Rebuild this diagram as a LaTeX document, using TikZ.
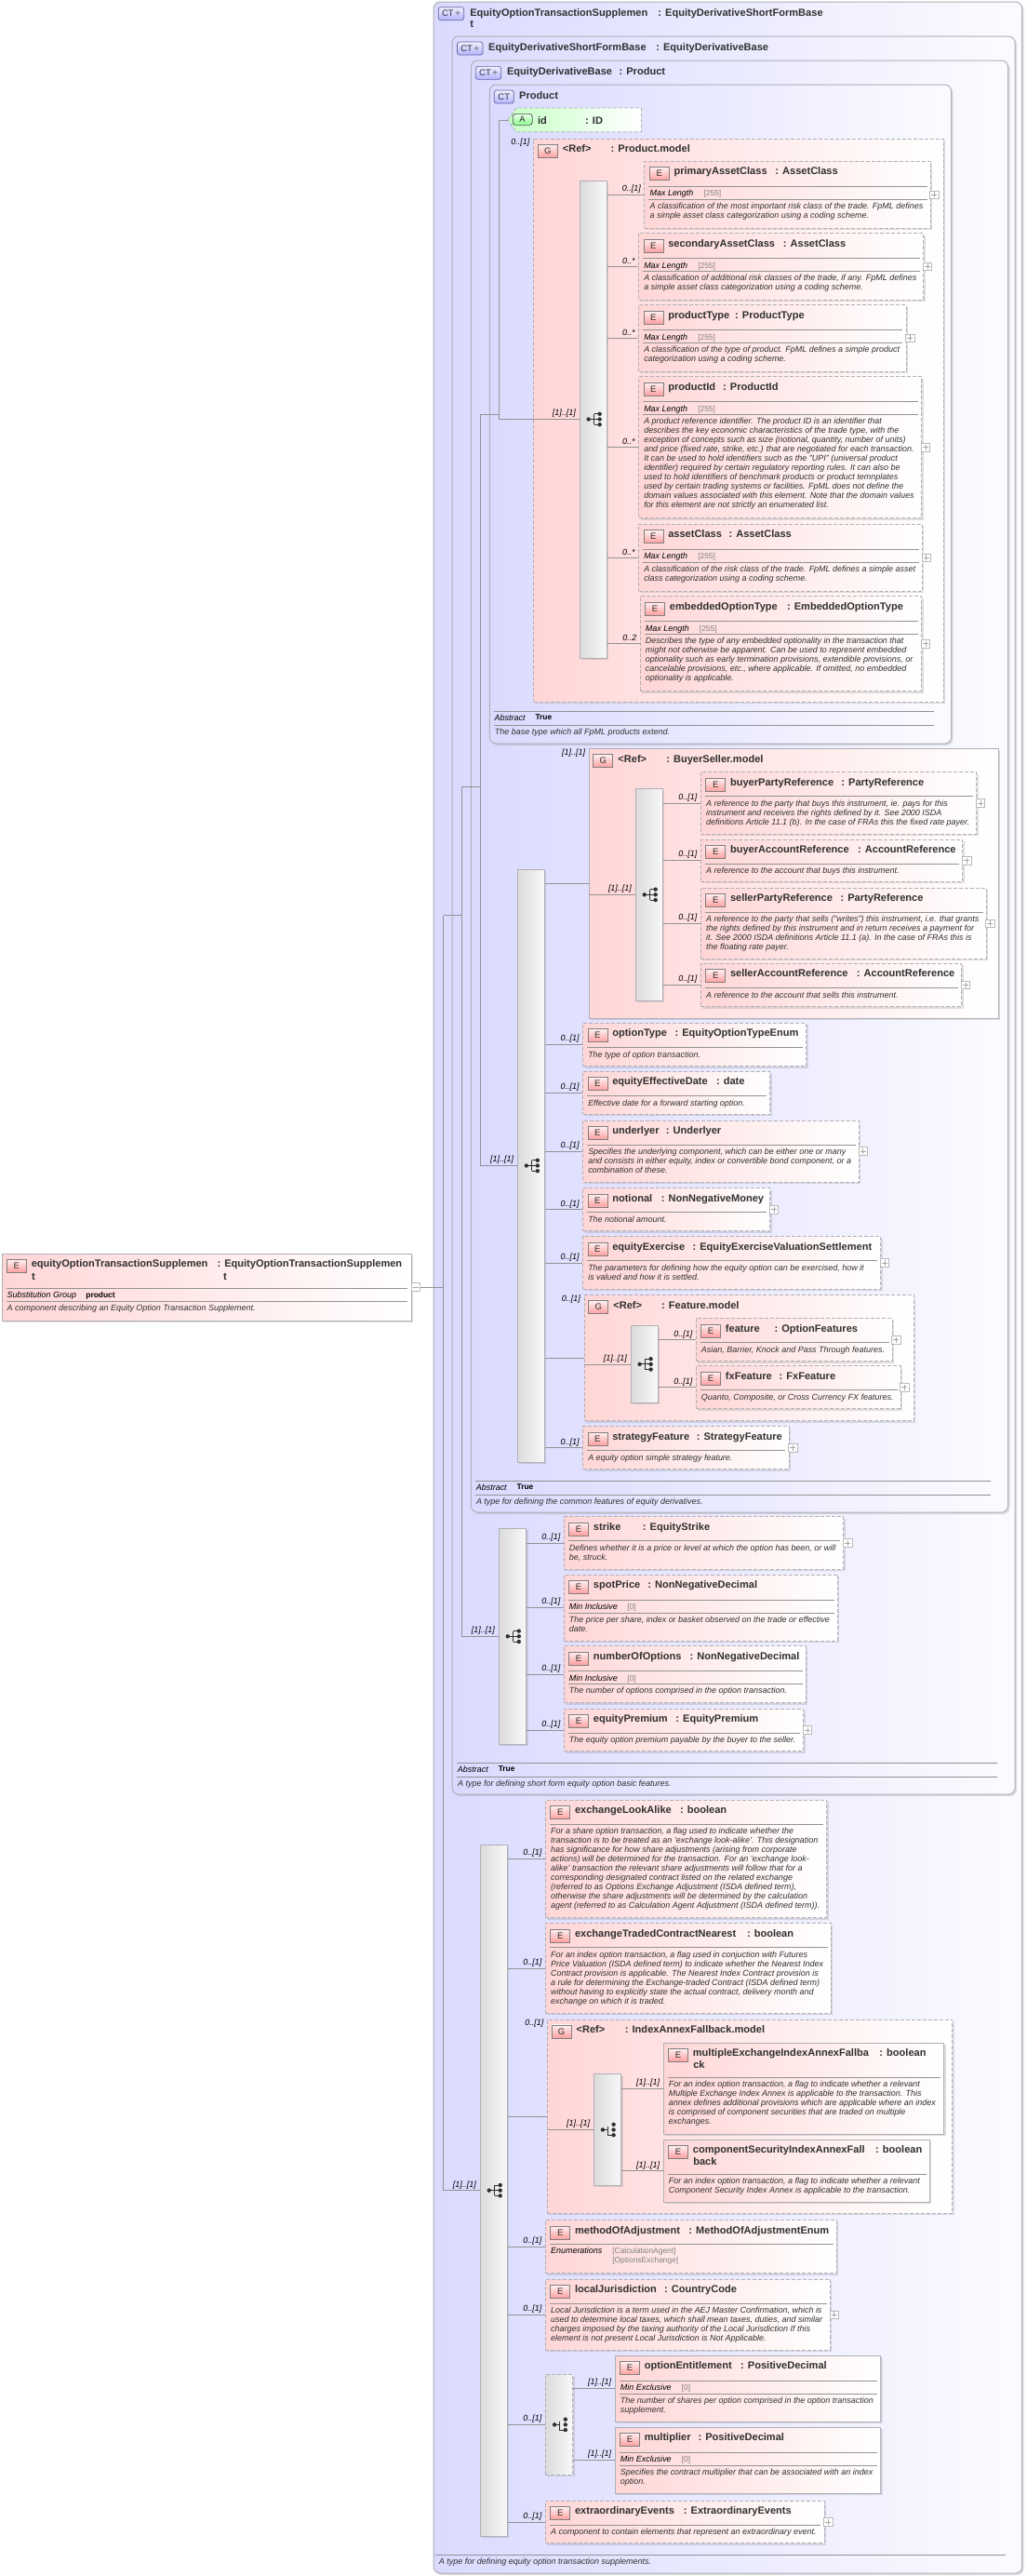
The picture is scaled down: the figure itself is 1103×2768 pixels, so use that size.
\documentclass[tikz,border=0pt]{standalone}
\usepackage{fontspec}
\setmainfont{Liberation Sans}
\usepackage{xcolor}
\usetikzlibrary{fit,shadows}

\definecolor{ctleft}{RGB}{218,218,255}
\definecolor{ctright}{RGB}{251,251,255}
\definecolor{elleft}{RGB}{255,214,214}
\definecolor{edgegray}{RGB}{176,176,184}
\definecolor{inkgray}{RGB}{48,48,48}

\tikzset{
	softshadow/.style={drop shadow={shadow xshift=2pt,shadow yshift=-2pt,fill=gray,opacity=.25}},
	ctbox/.style={draw=edgegray,line width=1pt,rounded corners=7pt,left color=ctleft,right color=ctright,inner sep=0pt,softshadow},
	elemsolid/.style={draw=edgegray,line width=.9pt,left color=elleft,right color=white,inner sep=0pt,softshadow},
	elemdash/.style={elemsolid,dash pattern=on 4pt off 2pt},
	seqbar/.style={draw=edgegray,line width=.9pt,left color=gray!28,right color=gray!5,inner sep=0pt,softshadow},
	seqbardash/.style={seqbar,dash pattern=on 4pt off 2pt},
	badge/.style={draw=gray,line width=.7pt,top color=red!6,bottom color=red!38,text=inkgray,inner sep=0pt,
		minimum width=21pt,minimum height=14pt,anchor=north west,font=\fontsize{9.5}{10}\selectfont},
	ctbadge/.style={badge,rounded corners=2.5pt,draw=gray!80!blue,top color=blue!6,bottom color=blue!30},
	titletext/.style={anchor=base west,inner sep=0pt,text=inkgray,font=\fontsize{11.05}{12}\selectfont\bfseries},
	doctext/.style={anchor=north west,align=left,inner sep=0pt,text=inkgray,font=\fontsize{8.98}{10}\selectfont\itshape},
	facetname/.style={anchor=base west,inner sep=0pt,text=black,font=\fontsize{8.98}{10}\selectfont\itshape},
	facetval/.style={anchor=base west,inner sep=0pt,text=gray,font=\fontsize{8.4}{10}\selectfont},
	occ/.style={anchor=east,inner sep=0pt,text=black,font=\fontsize{8.98}{10}\selectfont\itshape},
	conn/.style={draw=gray!85,line width=.7pt},
	sepline/.style={draw=gray!85,line width=.7pt},
	expander/.style={draw=gray!55,fill=white,line width=.6pt,minimum width=9.5pt,minimum height=8.5pt,inner sep=0pt,
		path picture={\draw[gray!70,line width=.5pt] ([xshift=-3pt]path picture bounding box.center) -- ([xshift=3pt]path picture bounding box.center);}},
}

% element box with badge, name and type
\newcommand{\elem}[9][elemdash]{
	\node[#1,fit={(#3,#4) (#5,#6)}] (#2) {};
	\node[badge] (#2-b) at ([xshift=5.5pt,yshift=-6.5pt]#2.north west) {E};
	\node[titletext] (#2-n) at ([xshift=32pt,yshift=-15pt]#2.north west) {#7};
	\node[titletext] (#2-t) at (#8,0 |- #2-n.base) {: #9};
}
% group box
\newcommand{\grp}[8][elemdash]{
	\node[#1,fit={(#3,#4) (#5,#6)}] (#2) {};
	\node[badge] (#2-b) at ([xshift=4.7pt,yshift=-6pt]#2.north west) {G};
	\node[titletext] (#2-n) at ([xshift=31.5pt,yshift=-15pt]#2.north west) {<Ref>};
	\node[titletext] (#2-t) at (#7,0 |- #2-n.base) {: #8};
}
% separator and doc text, no facet
\newcommand{\elemtext}[3][26.5]{
	\draw[sepline] ([xshift=5pt,yshift=-#1 pt]#2.north west) -- ([xshift=-4pt,yshift=-#1 pt]#2.north east);
	\node[doctext] (#2-d) at ([xshift=6pt,yshift=-#1 pt-3.5pt]#2.north west) {\strut #3};
}
% separators, one facet, doc text
\newcommand{\elemfacet}[6][27.3]{
	\draw[sepline] ([xshift=5pt,yshift=-#1 pt]#2.north west) -- ([xshift=-4pt,yshift=-#1 pt]#2.north east);
	\node[facetname] (#2-f) at ([xshift=6pt,yshift=-#1 pt-10.7pt]#2.north west) {#3};
	\node[facetval] (#2-v) at ([xshift=#4 pt,yshift=-#1 pt-10.7pt]#2.north west) {#5};
	\draw[sepline] ([xshift=5pt,yshift=-#1 pt-14pt]#2.north west) -- ([xshift=-4pt,yshift=-#1 pt-14pt]#2.north east);
	\node[doctext] (#2-d) at ([xshift=6pt,yshift=-#1 pt-17.2pt]#2.north west) {\strut #6};
}
\newcommand{\plusbox}[1]{
	\node[expander] (#1-p) at ([xshift=3.8pt]#1.east) {};
	\draw[gray!70,line width=.5pt] ([yshift=-3pt]#1-p.center) -- ([yshift=3pt]#1-p.center);
}
% connector from sequence bar to child
\newcommand{\childlink}[3]{
	\draw[conn] (#1.east |- #2.west) -- (#2.west);
	\node[occ] (#2-o) at ([xshift=-3.3pt,yshift=6pt]#2.west) {#3};
}
% same, label at top of a group
\newcommand{\grouplink}[3]{
	\draw[conn] (#1.east |- #2.west) -- (#2.west);
	\node[occ] (#2-o) at ([xshift=-3.5pt,yshift=-4.5pt]#2.north west) {#3};
}
\newcommand{\baricon}[1]{
	\begin{scope}[shift={(#1.center)}]
		\draw[inkgray,line width=.8pt] (-5,0) -- (1,0) (1,-5.7) -- (1,5.7) (1,-5.7) -- (7,-5.7) (1,0) -- (7,0) (1,5.7) -- (7,5.7);
		\fill[inkgray] (-5,0) circle (2.2) (7,-5.7) circle (2.2) (7,0) circle (2.2) (7,5.7) circle (2.2);
	\end{scope}
}
\newcommand{\allicon}[1]{
	\begin{scope}[shift={(#1.center)}]
		\draw[inkgray,line width=.8pt] (-5,0) -- (0,0) (0,-3.5) -- (0,5.7) -- (6.7,5.7);
		\fill[inkgray] (-5,0) circle (2.2) (6.7,-5.7) circle (2.2) (6.7,0) circle (2.2) (6.7,5.7) circle (2.2);
	\end{scope}
}
% abstract row under a complex type
\newcommand{\ctfoot}[6]{
	\draw[sepline] (#1,#3) -- (#2,#3);
	\node[facetname] (#6-f) at (#1+1,#3+10) {Abstract};
	\node[titletext,font=\fontsize{8.4}{10}\selectfont\bfseries,text=black] (#6-v) at (#4,#3+9.5) {True};
	\draw[sepline] (#1,#3+15.3) -- (#2,#3+15.3);
	\node[doctext] (#6-d) at (#1+1.2,#3+18.2) {\strut #5};
}

\begin{document}
\begin{tikzpicture}[x=1pt,y=-1pt]
	\useasboundingbox (0,0) rectangle (1103,2768);

	% nested complex types, outermost first
	\node[ctbox,fit={(466.2,2) (1098.7,2765)}] (ctsupp) {};
	\node[ctbox,fit={(486.1,39) (1091.1,1928)}] (ctshort) {};
	\node[ctbox,fit={(506.4,65) (1083.5,1625)}] (ctbase) {};
	\node[ctbox,fit={(526.3,91) (1022.6,799)}] (ctproduct) {};

	\node[ctbadge,minimum width=27.4pt] (ctsupp-b) at (470.9,7.3) {CT\,\textcolor{gray}{\textbf{+}}};
	\node[titletext] (ctsupp-n) at (505.1,17) {EquityOptionTransactionSupplemen};
	\node[titletext] (ctsupp-n2) at (505.1,29) {t};
	\node[titletext] (ctsupp-t) at (707.2,17) {: EquityDerivativeShortFormBase};

	\node[ctbadge,minimum width=27.4pt] (ctshort-b) at (491.2,44.7) {CT\,\textcolor{gray}{\textbf{+}}};
	\node[titletext] (ctshort-n) at (525,54) {EquityDerivativeShortFormBase};
	\node[titletext] (ctshort-t) at (705.1,54) {: EquityDerivativeBase};

	\node[ctbadge,minimum width=27.4pt] (ctbase-b) at (511,71) {CT\,\textcolor{gray}{\textbf{+}}};
	\node[titletext] (ctbase-n) at (544.9,80) {EquityDerivativeBase};
	\node[titletext] (ctbase-t) at (665.4,80) {: Product};

	\node[ctbadge] (ctproduct-b) at (530.9,96.7) {CT};
	\node[titletext] (ctproduct-n) at (558,106) {Product};

	% attribute id
	\shade[left color=green!22,right color=white,draw=edgegray,line width=.9pt,dash pattern=on 4pt off 2pt]
		(545.7,129) -- (555,116) -- (689.5,116) -- (689.5,141.7) -- (555,141.7) -- cycle;
	\coordinate (attrid) at (545.7,129);
	\node[badge,rounded corners=3pt,draw=gray!60!black,top color=green!8,bottom color=green!45,minimum height=12pt] (attrid-b) at (550.8,122) {A};
	\node[titletext] (attrid-n) at (577.8,133) {id};
	\node[titletext] (attrid-t) at (629,133) {: ID};

	% Product.model
	\grp{pmodel}{573.6}{149.3}{1014.2}{754}{656.5}{Product.model}
	\node[seqbar,fit={(623.1,194) (652.2,707)}] (pbar) {};
	\baricon{pbar}

	\elem{primary}{692.8}{173.3}{1000.2}{245}{primaryAssetClass}{833.2}{AssetClass}
	\elemfacet{primary}{Max Length}{64}{[255]}{A classification of the most important risk class of the trade. FpML defines\\a simple asset class categorization using a coding scheme.}
	\plusbox{primary}
	\elem{secondary}{686.5}{250.7}{992.6}{322}{secondaryAssetClass}{841.7}{AssetClass}
	\elemfacet{secondary}{Max Length}{64}{[255]}{A classification of additional risk classes of the trade, if any. FpML defines\\a simple asset class categorization using a coding scheme.}
	\plusbox{secondary}
	\elem{ptype}{686.5}{327.7}{974}{399}{productType}{790}{ProductType}
	\elemfacet{ptype}{Max Length}{64}{[255]}{A classification of the type of product. FpML defines a simple product\\categorization using a coding scheme.}
	\plusbox{ptype}
	\elem{pid}{686.5}{404.7}{990.5}{556.7}{productId}{777}{ProductId}
	\elemfacet{pid}{Max Length}{64}{[255]}{A product reference identifier. The product ID is an identifier that\\describes the key economic characteristics of the trade type, with the\\exception of concepts such as size (notional, quantity, number of units)\\and price (fixed rate, strike, etc.) that are negotiated for each transaction.\\It can be used to hold identifiers such as the "UPI" (universal product\\identifier) required by certain regulatory reporting rules. It can also be\\used to hold identifiers of benchmark products or product temnplates\\used by certain trading systems or facilities. FpML does not define the\\domain values associated with this element. Note that the domain values\\for this element are not strictly an enumerated list.}
	\plusbox{pid}
	\elem{aclass}{686.5}{563.3}{991.3}{635.3}{assetClass}{783.3}{AssetClass}
	\elemfacet{aclass}{Max Length}{64}{[255]}{A classification of the risk class of the trade. FpML defines a simple asset\\class categorization using a coding scheme.}
	\plusbox{aclass}
	\elem{embedded}{688.2}{640.7}{990.5}{742.7}{embeddedOptionType}{845.9}{EmbeddedOptionType}
	\elemfacet{embedded}{Max Length}{64}{[255]}{Describes the type of any embedded optionality in the transaction that\\might not otherwise be apparent. Can be used to represent embedded\\optionality such as early termination provisions, extendible provisions, or\\cancelable provisions, etc., where applicable. If omitted, no embedded\\optionality is applicable.}
	\plusbox{embedded}

	\childlink{pbar}{primary}{0..[1]}
	\childlink{pbar}{secondary}{0..*}
	\childlink{pbar}{ptype}{0..*}
	\childlink{pbar}{pid}{0..*}
	\childlink{pbar}{aclass}{0..*}
	\childlink{pbar}{embedded}{0..2}

	\ctfoot{530.5}{1004}{764}{575.3}{The base type which all FpML products extend.}{ctproduct}

	% equity derivative base sequence
	\node[seqbar,fit={(556.3,934) (585.4,1571)}] (eqbar) {};
	\baricon{eqbar}

	\grp[elemsolid]{bsmodel}{633.2}{804.7}{1073.3}{1094}{716.1}{BuyerSeller.model}
	\node[seqbar,fit={(683.1,847.7) (712.3,1075)}] (bsbar) {};
	\baricon{bsbar}
	\elem{buyerparty}{753.3}{829.7}{1049.7}{896.3}{buyerPartyReference}{904.2}{PartyReference}
	\elemtext{buyerparty}{A reference to the party that buys this instrument, ie. pays for this\\instrument and receives the rights defined by it. See 2000 ISDA\\definitions Article 11.1 (b). In the case of FRAs this the fixed rate payer.}
	\plusbox{buyerparty}
	\elem{buyeracc}{753.3}{902}{1034.9}{947.3}{buyerAccountReference}{922}{AccountReference}
	\elemtext{buyeracc}{A reference to the account that buys this instrument.}
	\plusbox{buyeracc}
	\elem{sellerparty}{753.3}{954}{1060.2}{1030.3}{sellerPartyReference}{903.4}{PartyReference}
	\elemtext{sellerparty}{A reference to the party that sells ("writes") this instrument, i.e. that grants\\the rights defined by this instrument and in return receives a payment for\\it. See 2000 ISDA definitions Article 11.1 (a). In the case of FRAs this is\\the floating rate payer.}
	\plusbox{sellerparty}
	\elem{selleracc}{753.3}{1035.3}{1033.6}{1081.7}{sellerAccountReference}{920.7}{AccountReference}
	\elemtext{selleracc}{A reference to the account that sells this instrument.}
	\plusbox{selleracc}
	\childlink{bsbar}{buyerparty}{0..[1]}
	\childlink{bsbar}{buyeracc}{0..[1]}
	\childlink{bsbar}{sellerparty}{0..[1]}
	\childlink{bsbar}{selleracc}{0..[1]}

	\elem{opttype}{626.5}{1099.3}{866.6}{1145.7}{optionType}{725.4}{EquityOptionTypeEnum}
	\elemtext{opttype}{The type of option transaction.}
	\elem{effdate}{626.5}{1151.3}{827.7}{1197.3}{equityEffectiveDate}{769.8}{date}
	\elemtext{effdate}{Effective date for a forward starting option.}
	\elem{underlyer}{626.5}{1204}{923.3}{1270}{underlyer}{715.7}{Underlyer}
	\elemtext{underlyer}{Specifies the underlying component, which can be either one or many\\and consists in either equity, index or convertible bond component, or a\\combination of these.}
	\plusbox{underlyer}
	\elem{notional}{626.5}{1276.7}{827.7}{1322.7}{notional}{710.6}{NonNegativeMoney}
	\elemtext{notional}{The notional amount.}
	\plusbox{notional}
	\elem{exercise}{626.5}{1328.7}{946.5}{1385}{equityExercise}{744.4}{EquityExerciseValuationSettlement}
	\elemtext{exercise}{The parameters for defining how the equity option can be exercised, how it\\is valued and how it is settled.}
	\plusbox{exercise}

	\grp{fmodel}{628.1}{1391.7}{982.4}{1526.7}{711}{Feature.model}
	\node[seqbar,fit={(678,1424.7) (707.2,1507)}] (fbar) {};
	\baricon{fbar}
	\elem{feature}{748.2}{1416.7}{959.2}{1462.7}{feature}{832.4}{OptionFeatures}
	\elemtext{feature}{Asian, Barrier, Knock and Pass Through features.}
	\plusbox{feature}
	\elem{fxfeature}{748.2}{1467.7}{968.1}{1513.7}{fxFeature}{837.4}{FxFeature}
	\elemtext{fxfeature}{Quanto, Composite, or Cross Currency FX features.}
	\plusbox{fxfeature}
	\childlink{fbar}{feature}{0..[1]}
	\childlink{fbar}{fxfeature}{0..[1]}

	\elem{strategy}{626.5}{1532.7}{848}{1578.7}{strategyFeature}{748.6}{StrategyFeature}
	\elemtext{strategy}{A equity option simple strategy feature.}
	\plusbox{strategy}

	\grouplink{eqbar}{bsmodel}{[1]..[1]}
	\childlink{eqbar}{opttype}{0..[1]}
	\childlink{eqbar}{effdate}{0..[1]}
	\childlink{eqbar}{underlyer}{0..[1]}
	\childlink{eqbar}{notional}{0..[1]}
	\childlink{eqbar}{exercise}{0..[1]}
	\grouplink{eqbar}{fmodel}{0..[1]}
	\childlink{eqbar}{strategy}{0..[1]}

	\ctfoot{510.6}{1064.5}{1591.3}{555.4}{A type for defining the common features of equity derivatives.}{ctbase}

	% short form sequence
	\node[seqbar,fit={(536,1642.3) (565.6,1874.3)}] (sfbar) {};
	\baricon{sfbar}
	\elem{strike}{606.2}{1629.7}{906.8}{1686}{strike}{690.7}{EquityStrike}
	\elemtext{strike}{Defines whether it is a price or level at which the option has been, or will\\be, struck.}
	\plusbox{strike}
	\elem{spot}{606.2}{1692}{900.4}{1763}{spotPrice}{696.2}{NonNegativeDecimal}
	\elemfacet{spot}{Min Inclusive}{68.5}{[0]}{The price per share, index or basket observed on the trade or effective\\date.}
	\elem{numopt}{606.2}{1768.7}{866.2}{1829.7}{numberOfOptions}{741.5}{NonNegativeDecimal}
	\elemfacet{numopt}{Min Inclusive}{68.5}{[0]}{The number of options comprised in the option transaction.}
	\elem{premium}{606.2}{1836}{863.7}{1881.7}{equityPremium}{726.2}{EquityPremium}
	\elemtext{premium}{The equity option premium payable by the buyer to the seller.}
	\plusbox{premium}
	\childlink{sfbar}{strike}{0..[1]}
	\childlink{sfbar}{spot}{0..[1]}
	\childlink{sfbar}{numopt}{0..[1]}
	\childlink{sfbar}{premium}{0..[1]}

	\ctfoot{490.7}{1072.1}{1894.3}{535.6}{A type for defining short form equity option basic features.}{ctshort}

	% supplement sequence
	\node[seqbar,fit={(516.1,1982.3) (545.3,2725)}] (suppbar) {};
	\baricon{suppbar}
	\elem{lookalike}{586.3}{1934}{888.6}{2060.7}{exchangeLookAlike}{730.9}{boolean}
	\elemtext{lookalike}{For a share option transaction, a flag used to indicate whether the\\transaction is to be treated as an 'exchange look-alike'. This designation\\has significance for how share adjustments (arising from corporate\\actions) will be determined for the transaction. For an 'exchange look-\\alike' transaction the relevant share adjustments will follow that for a\\corresponding designated contract listed on the related exchange\\(referred to as Options Exchange Adjustment (ISDA defined term),\\otherwise the share adjustments will be determined by the calculation\\agent (referred to as Calculation Agent Adjustment (ISDA defined term)).}
	\elem{nearest}{586.3}{2066.7}{893.2}{2163.3}{exchangeTradedContractNearest}{802.8}{boolean}
	\elemtext{nearest}{For an index option transaction, a flag used in conjuction with Futures\\Price Valuation (ISDA defined term) to indicate whether the Nearest Index\\Contract provision is applicable. The Nearest Index Contract provision is\\a rule for determining the Exchange-traded Contract (ISDA defined term)\\without having to explicitly state the actual contract, delivery month and\\exchange on which it is traded.}

	\grp{imodel}{588.4}{2170}{1023.9}{2378.3}{671.7}{IndexAnnexFallback.model}
	\node[seqbar,fit={(638.3,2228.7) (667.5,2348.3)}] (ibar) {};
	\allicon{ibar}
	\elem[elemsolid]{multiple}{713.1}{2195}{1014.6}{2293}{multipleExchangeIndexAnnexFallba}{945.2}{boolean}
	\node[titletext] (multiple-n2) at (745.1,2222) {ck};
	\elemtext[37.3]{multiple}{For an index option transaction, a flag to indicate whether a relevant\\Multiple Exchange Index Annex is applicable to the transaction. This\\annex defines additional provisions which are applicable where an index\\is comprised of component securities that are traded on multiple\\exchanges.}
	\elem[elemsolid]{component}{713.1}{2299}{999.4}{2366.3}{componentSecurityIndexAnnexFall}{941}{boolean}
	\node[titletext] (component-n2) at (745.1,2326) {back};
	\elemtext[37.3]{component}{For an index option transaction, a flag to indicate whether a relevant\\Component Security Index Annex is applicable to the transaction.}
	\childlink{ibar}{multiple}{[1]..[1]}
	\childlink{ibar}{component}{[1]..[1]}

	\elem{method}{586.3}{2385.7}{899.2}{2442.7}{methodOfAdjustment}{740.2}{MethodOfAdjustmentEnum}
	\draw[sepline] ([xshift=5pt,yshift=-26.5pt]method.north west) -- ([xshift=-4pt,yshift=-26.5pt]method.north east);
	\node[facetname] (method-f) at ([xshift=6pt,yshift=-36.5pt]method.north west) {Enumerations};
	\node[facetval] (method-v) at ([xshift=72.3pt,yshift=-36.5pt]method.north west) {[CalculationAgent]};
	\node[facetval] (method-v2) at ([xshift=72.3pt,yshift=-46.5pt]method.north west) {[OptionsExchange]};
	\elem{localj}{586.3}{2449}{892.4}{2525.3}{localJurisdiction}{714}{CountryCode}
	\elemtext{localj}{Local Jurisdiction is a term used in the AEJ Master Confirmation, which is\\used to determine local taxes, which shall mean taxes, duties, and similar\\charges imposed by the taxing authority of the Local Jurisdiction If this\\element is not present Local Jurisdiction is Not Applicable.}
	\plusbox{localj}

	\node[seqbardash,fit={(586.3,2551.7) (615.9,2659)}] (entbar) {};
	\allicon{entbar}
	\elem[elemsolid]{entitle}{661.1}{2531}{946.9}{2602}{optionEntitlement}{796}{PositiveDecimal}
	\elemfacet{entitle}{Min Exclusive}{72}{[0]}{The number of shares per option comprised in the option transaction\\supplement.}
	\elem[elemsolid]{multiplier}{661.1}{2608}{946.5}{2679}{multiplier}{750.3}{PositiveDecimal}
	\elemfacet{multiplier}{Min Exclusive}{72}{[0]}{Specifies the contract multiplier that can be associated with an index\\option.}
	\childlink{entbar}{entitle}{[1]..[1]}
	\childlink{entbar}{multiplier}{[1]..[1]}

	\elem{extra}{586.3}{2687}{886}{2732.7}{extraordinaryEvents}{734.7}{ExtraordinaryEvents}
	\elemtext{extra}{A component to contain elements that represent an extraordinary event.}
	\plusbox{extra}

	\childlink{suppbar}{lookalike}{0..[1]}
	\childlink{suppbar}{nearest}{0..[1]}
	\grouplink{suppbar}{imodel}{0..[1]}
	\childlink{suppbar}{method}{0..[1]}
	\childlink{suppbar}{localj}{0..[1]}
	\childlink{suppbar}{entbar}{0..[1]}
	\childlink{suppbar}{extra}{0..[1]}

	\draw[sepline] (467.5,2745) -- (1080.5,2745);
	\node[doctext] (ctsupp-d) at (471.7,2748.2) {\strut A type for defining equity option transaction supplements.};

	% root element
	\elem[elemsolid]{root}{2}{1347}{442}{1419}{equityOptionTransactionSupplemen}{233.3}{EquityOptionTransactionSupplemen}
	\node[titletext] (root-n2) at (34,1375) {t};
	\node[titletext] (root-t2) at (240,1375) {t};
	\elemfacet[37.3]{root}{Substitution Group}{90.7}{\textcolor{black}{\bfseries product}}{A component describing an Equity Option Transaction Supplement.}
	\node[expander] (root-p) at ([xshift=4.2pt]root.east) {};

	% trunks, from the innermost outwards
	\coordinate (tr0) at (476.8,983.5);
	\coordinate (tr1) at (496.7,845);
	\coordinate (tr2) at (516.5,445);
	\coordinate (tr3) at (536.4,129);
	\draw[conn] (root-p.east) -| (tr0);
	\draw[conn] (suppbar.west) -| (tr0);
	\draw[conn] (tr0) -- (tr0 -| tr1);
	\draw[conn] (sfbar.west) -| (tr1);
	\draw[conn] (tr1) -- (tr1 -| tr2);
	\draw[conn] (eqbar.west) -| (tr2);
	\draw[conn] (tr2) -- (tr2 -| tr3);
	\draw[conn] (pbar.west) -| (tr3);
	\draw[conn] (tr3) -- (attrid);

	% links from the outer groups to their bars
	\draw[conn] (bsbar.west -| bsmodel.west) -- (bsbar.west);
	\draw[conn] (fbar.west -| fmodel.west) -- (fbar.west);
	\draw[conn] (ibar.west -| imodel.west) -- (ibar.west);

	% occurrences of bars and Product.model
	\node[occ] (pmodel-o) at ([xshift=-3.5pt,yshift=-4.5pt]pmodel.north west) {0..[1]};
	\node[occ] (pbar-o) at ([xshift=-3.5pt,yshift=6pt]pbar.west) {[1]..[1]};
	\node[occ] (eqbar-o) at ([xshift=-3.5pt,yshift=6pt]eqbar.west) {[1]..[1]};
	\node[occ] (bsbar-o) at ([xshift=-3.5pt,yshift=6pt]bsbar.west) {[1]..[1]};
	\node[occ] (fbar-o) at ([xshift=-3.5pt,yshift=6pt]fbar.west) {[1]..[1]};
	\node[occ] (sfbar-o) at ([xshift=-3.5pt,yshift=6pt]sfbar.west) {[1]..[1]};
	\node[occ] (suppbar-o) at ([xshift=-3.5pt,yshift=6pt]suppbar.west) {[1]..[1]};
	\node[occ] (ibar-o) at ([xshift=-3.5pt,yshift=6pt]ibar.west) {[1]..[1]};
\end{tikzpicture}
\end{document}
